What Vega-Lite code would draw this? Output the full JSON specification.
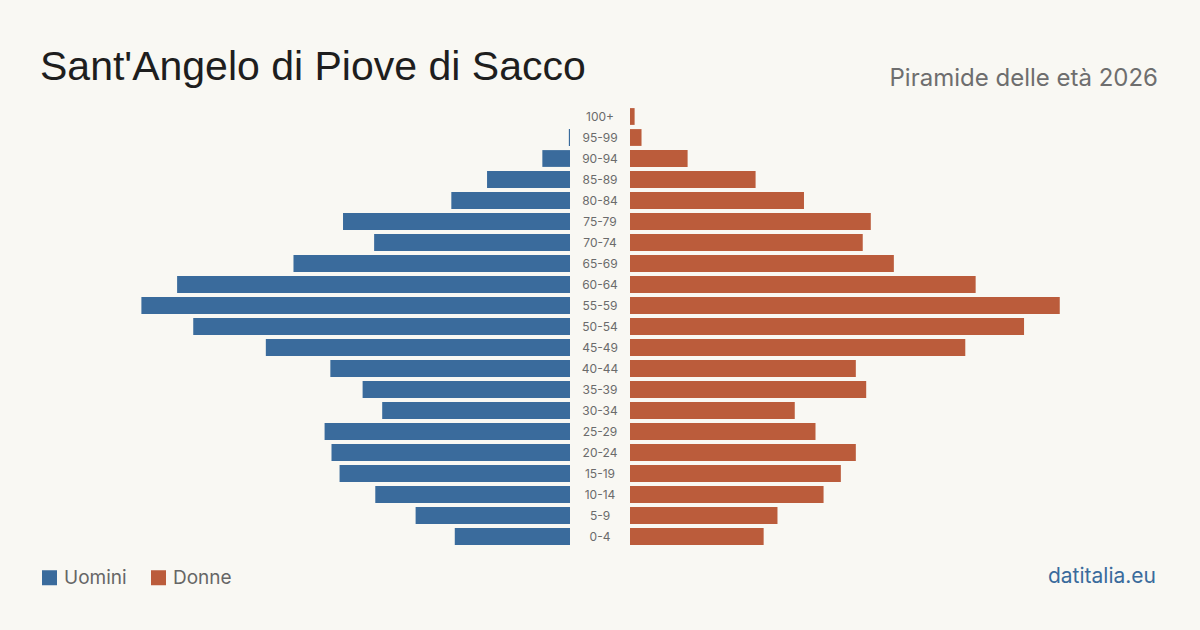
{
  "$schema": "https://vega.github.io/schema/vega-lite/v6.json",
  "background": "#f9f8f3",
  "padding": {"left": 40, "right": 40, "top": 47, "bottom": 44},
  "bounds": "flush",
  "datasets": {
    "pop": [
      {"age": "100+", "sex": "Uomini", "value": 0},
      {"age": "95-99", "sex": "Uomini", "value": 1},
      {"age": "90-94", "sex": "Uomini", "value": 24},
      {"age": "85-89", "sex": "Uomini", "value": 72},
      {"age": "80-84", "sex": "Uomini", "value": 103},
      {"age": "75-79", "sex": "Uomini", "value": 197},
      {"age": "70-74", "sex": "Uomini", "value": 170},
      {"age": "65-69", "sex": "Uomini", "value": 240},
      {"age": "60-64", "sex": "Uomini", "value": 341},
      {"age": "55-59", "sex": "Uomini", "value": 372},
      {"age": "50-54", "sex": "Uomini", "value": 327},
      {"age": "45-49", "sex": "Uomini", "value": 264},
      {"age": "40-44", "sex": "Uomini", "value": 208},
      {"age": "35-39", "sex": "Uomini", "value": 180},
      {"age": "30-34", "sex": "Uomini", "value": 163},
      {"age": "25-29", "sex": "Uomini", "value": 213},
      {"age": "20-24", "sex": "Uomini", "value": 207},
      {"age": "15-19", "sex": "Uomini", "value": 200},
      {"age": "10-14", "sex": "Uomini", "value": 169},
      {"age": "5-9", "sex": "Uomini", "value": 134},
      {"age": "0-4", "sex": "Uomini", "value": 100},
      {"age": "100+", "sex": "Donne", "value": 4},
      {"age": "95-99", "sex": "Donne", "value": 10},
      {"age": "90-94", "sex": "Donne", "value": 50},
      {"age": "85-89", "sex": "Donne", "value": 109},
      {"age": "80-84", "sex": "Donne", "value": 151},
      {"age": "75-79", "sex": "Donne", "value": 209},
      {"age": "70-74", "sex": "Donne", "value": 202},
      {"age": "65-69", "sex": "Donne", "value": 229},
      {"age": "60-64", "sex": "Donne", "value": 300},
      {"age": "55-59", "sex": "Donne", "value": 373},
      {"age": "50-54", "sex": "Donne", "value": 342},
      {"age": "45-49", "sex": "Donne", "value": 291},
      {"age": "40-44", "sex": "Donne", "value": 196},
      {"age": "35-39", "sex": "Donne", "value": 205},
      {"age": "30-34", "sex": "Donne", "value": 143},
      {"age": "25-29", "sex": "Donne", "value": 161},
      {"age": "20-24", "sex": "Donne", "value": 196},
      {"age": "15-19", "sex": "Donne", "value": 183},
      {"age": "10-14", "sex": "Donne", "value": 168},
      {"age": "5-9", "sex": "Donne", "value": 128},
      {"age": "0-4", "sex": "Donne", "value": 116}
    ]
  },
  "data": {"name": "pop"},
  "spacing": 0,
  "resolve": {"scale": {"color": "shared", "x": "independent", "y": "independent"}},
  "hconcat": [
    {
      "width": 530,
      "height": 441,
      "title": {
        "text": "Sant'Angelo di Piove di Sacco",
        "anchor": "start",
        "font": "Liberation Sans",
        "fontSize": 41,
        "fontWeight": "normal",
        "color": "#1e1e1e",
        "baseline": "alphabetic",
        "offset": -15
      },
      "transform": [{"filter": "datum.sex === 'Uomini'"}],
      "mark": {"type": "bar"},
      "encoding": {
        "y": {
          "field": "age", "type": "nominal", "axis": null,
          "scale": {"domain": ["100+", "95-99", "90-94", "85-89", "80-84", "75-79", "70-74", "65-69", "60-64", "55-59", "50-54", "45-49", "40-44", "35-39", "30-34", "25-29", "20-24", "15-19", "10-14", "5-9", "0-4"], "paddingInner": 0.2, "paddingOuter": 0.1}
        },
        "x": {"field": "value", "type": "quantitative", "axis": null, "scale": {"domain": [0, 460], "reverse": true}},
        "color": {
          "field": "sex", "type": "nominal",
          "scale": {"domain": ["Uomini", "Donne"], "range": ["#3a6b9c", "#bb5c3b"]},
          "legend": {
            "orient": "bottom", "direction": "horizontal", "title": null,
            "symbolType": "square", "symbolSize": 225, "symbolStrokeWidth": 0, "symbolOpacity": 1,
            "labelFont": "Inter", "labelFontSize": 19, "labelColor": "#666666",
            "columnPadding": 22, "labelOffset": 5, "offset": -19
          }
        }
      }
    },
    {
      "width": 60,
      "height": 441,
      "title": {
        "text": "datitalia.eu",
        "orient": "bottom",
        "anchor": "end",
        "dx": 526,
        "font": "Inter",
        "fontSize": 21,
        "fontWeight": "normal",
        "color": "#3a6b9c",
        "offset": 19
      },
      "transform": [{"filter": "datum.sex === 'Donne'"}],
      "mark": {"type": "text", "font": "Inter", "fontSize": 12, "color": "#6b6b6b", "align": "center", "baseline": "middle"},
      "encoding": {
        "y": {
          "field": "age", "type": "nominal", "axis": null,
          "scale": {"domain": ["100+", "95-99", "90-94", "85-89", "80-84", "75-79", "70-74", "65-69", "60-64", "55-59", "50-54", "45-49", "40-44", "35-39", "30-34", "25-29", "20-24", "15-19", "10-14", "5-9", "0-4"], "paddingInner": 0.2, "paddingOuter": 0.1}
        },
        "text": {"field": "age", "type": "nominal"}
      }
    },
    {
      "width": 530,
      "height": 441,
      "title": {
        "text": "Piramide delle età 2026",
        "anchor": "end",
        "dx": -2,
        "font": "Inter",
        "fontSize": 24,
        "fontWeight": "normal",
        "color": "#6e6e6e",
        "baseline": "alphabetic",
        "offset": -4
      },
      "transform": [{"filter": "datum.sex === 'Donne'"}],
      "mark": {"type": "bar"},
      "encoding": {
        "y": {
          "field": "age", "type": "nominal", "axis": null,
          "scale": {"domain": ["100+", "95-99", "90-94", "85-89", "80-84", "75-79", "70-74", "65-69", "60-64", "55-59", "50-54", "45-49", "40-44", "35-39", "30-34", "25-29", "20-24", "15-19", "10-14", "5-9", "0-4"], "paddingInner": 0.2, "paddingOuter": 0.1}
        },
        "x": {"field": "value", "type": "quantitative", "axis": null, "scale": {"domain": [0, 460]}},
        "color": {"field": "sex", "type": "nominal"}
      }
    }
  ],
  "config": {
    "view": {"stroke": null},
    "concat": {"spacing": 0}
  }
}
